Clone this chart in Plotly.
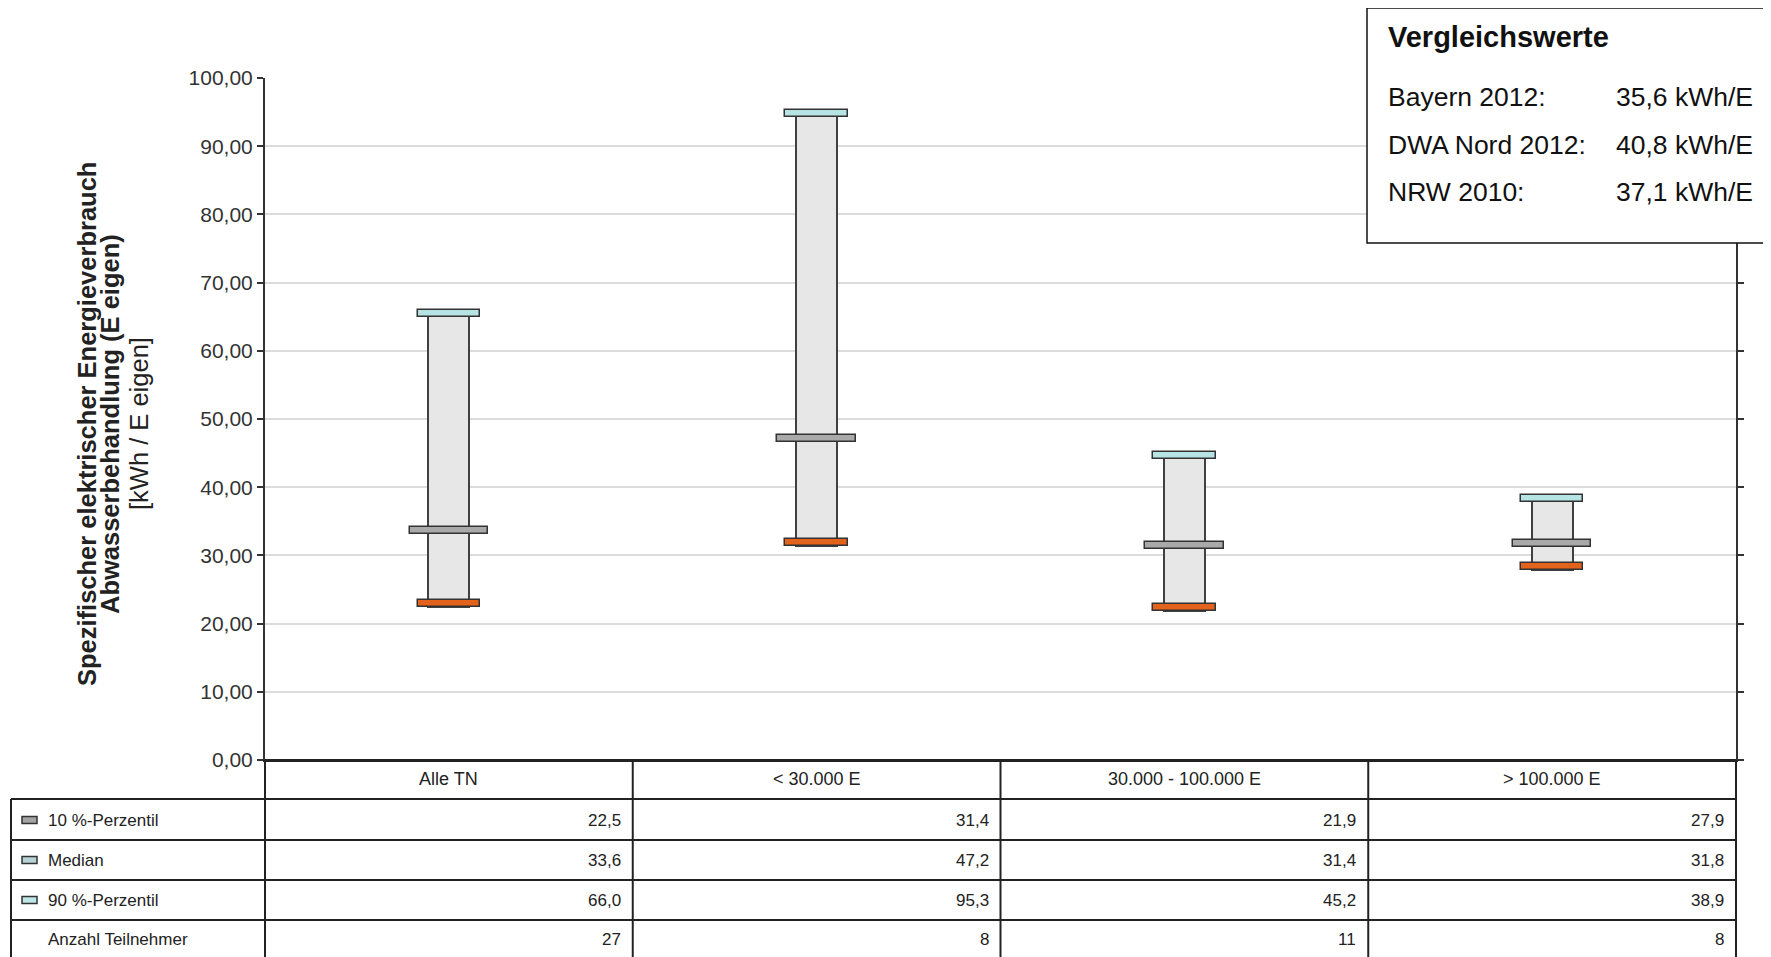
import plotly.graph_objects as go

# ---------------- data ----------------
categories = ["Alle TN", "< 30.000 E", "30.000 - 100.000 E", "> 100.000 E"]
p10 = [22.5, 31.4, 21.9, 27.9]
median = [33.6, 47.2, 31.4, 31.8]
p90 = [66.0, 95.3, 45.2, 38.9]
participants = [27, 8, 11, 8]

row_labels = ["10 %-Perzentil", "Median", "90 %-Perzentil", "Anzahl Teilnehmer"]
row_marker_colors = ["#a3a3a3", "#b7d3d3", "#bfe6e6", None]

ref_title = "Vergleichswerte"
ref_labels = ["Bayern 2012:", "DWA Nord 2012:", "NRW 2010:"]
ref_values = [35.6, 40.8, 37.1]
ref_unit = "kWh/E"

y_title_lines = ["Spezifischer elektrischer Energieverbrauch",
                 "Abwasserbehandlung (E eigen)",
                 "[kWh / E eigen]"]

# ---------------- layout constants (page pixels) ----------------
W, H = 1771, 957
OFF = 8  # page body margin
L, R, T, B = 265, 1736, 78, 760
PW, PH = R - L, B - T
XR = [-0.5, len(categories) - 0.5]
FONT = "Liberation Sans, Arial, sans-serif"
CAP_H = 1.0  # cap thickness in data units


def px(p):
    return (p - L) / PW


def py(p):
    return (B - p) / PH


def cx(v):
    return (v - XR[0]) / (XR[1] - XR[0])


def fmt(v):
    return f"{v:.1f}".replace(".", ",")


xs = list(range(len(categories)))

fig = go.Figure()
line_col = "#404040"
# box body
fig.add_trace(go.Bar(x=xs, y=[b - a for a, b in zip(p10, p90)], base=p10, width=0.112,
                     marker=dict(color="#e7e7e7", line=dict(color=line_col, width=2)),
                     showlegend=False, hoverinfo="skip"))
# top cap (90%)
fig.add_trace(go.Bar(x=xs, y=[CAP_H] * len(xs), base=[v - CAP_H for v in p90], width=0.17,
                     marker=dict(color="#b6e3e3", line=dict(color="#333333", width=1.5)),
                     showlegend=False, hoverinfo="skip"))
# median cap
fig.add_trace(go.Bar(x=xs, y=[CAP_H] * len(xs), base=[v - CAP_H / 2 for v in median], width=0.213,
                     marker=dict(color="#a9a9a9", line=dict(color="#333333", width=1.5)),
                     showlegend=False, hoverinfo="skip"))
# bottom cap (10%)
fig.add_trace(go.Bar(x=xs, y=[CAP_H] * len(xs), base=p10, width=0.17,
                     marker=dict(color="#e4631c", line=dict(color="#333333", width=1.5)),
                     showlegend=False, hoverinfo="skip"))

shapes = []
annotations = []
TL = "#222222"

# ---------- table ----------
row_lines = [760, 799, 840, 880, 920]
row_centers = [820, 860, 900, 939]
header_center = 779
bottom = 965

for i in range(len(categories) + 1):
    xv = cx(i - 0.5)
    shapes.append(dict(type="line", xref="paper", yref="paper", x0=xv, x1=xv,
                       y0=py(760), y1=py(bottom), line=dict(color=TL, width=2)))
shapes.append(dict(type="line", xref="paper", yref="paper", x0=px(11), x1=px(11),
                   y0=py(799), y1=py(bottom), line=dict(color=TL, width=2)))
for k, yl in enumerate(row_lines):
    x0 = 0 if k == 0 else px(11)
    shapes.append(dict(type="line", xref="paper", yref="paper", x0=x0, x1=1,
                       y0=py(yl), y1=py(yl), line=dict(color=TL, width=2)))

tfont = dict(family=FONT, size=17, color="#222222")
hfont = dict(family=FONT, size=18, color="#222222")
for i, c in enumerate(categories):
    annotations.append(dict(xref="paper", yref="paper", x=cx(i), y=py(header_center), text=c,
                            showarrow=False, xanchor="center", yanchor="middle", font=hfont))

rows = [[fmt(v) for v in p10], [fmt(v) for v in median], [fmt(v) for v in p90],
        [str(v) for v in participants]]
for r, vals in enumerate(rows):
    for i, t in enumerate(vals):
        annotations.append(dict(xref="paper", yref="paper", x=cx(i + 0.5), y=py(row_centers[r]),
                                text=t, showarrow=False, xanchor="right", yanchor="middle",
                                xshift=-10, font=tfont))
    annotations.append(dict(xref="paper", yref="paper", x=px(46), y=py(row_centers[r]),
                            text=row_labels[r], showarrow=False, xanchor="left",
                            yanchor="middle", font=tfont))
    mc = row_marker_colors[r]
    if mc:
        shapes.append(dict(type="rect", xref="paper", yref="paper", x0=px(22), x1=px(37),
                           y0=py(row_centers[r] + 3.5), y1=py(row_centers[r] - 3.5),
                           fillcolor=mc, line=dict(color="#333333", width=1.5)))

# ---------- comparison box ----------
shapes.append(dict(type="rect", xref="paper", yref="paper", x0=px(1367), x1=px(1800),
                   y0=py(243), y1=py(8), fillcolor="white", layer="above",
                   line=dict(color="#111111", width=1.5)))
bfont = dict(family=FONT, size=26.5, color="#111111")
annotations.append(dict(xref="paper", yref="paper", x=px(1386), y=py(37),
                        text=f"<b>{ref_title}</b>", showarrow=False, xanchor="left",
                        yanchor="middle", font=dict(family=FONT, size=29, color="#111111")))
ref_rows_y = [97, 145, 192]
for k, (lab, val) in enumerate(zip(ref_labels, ref_values)):
    annotations.append(dict(xref="paper", yref="paper", x=px(1386), y=py(ref_rows_y[k]),
                            text=lab, showarrow=False, xanchor="left", yanchor="middle",
                            font=bfont))
    annotations.append(dict(xref="paper", yref="paper", x=px(1614), y=py(ref_rows_y[k]),
                            text=f"{fmt(val)} {ref_unit}", showarrow=False, xanchor="left",
                            yanchor="middle", font=bfont))

# ---------- y-axis title ----------
title_x = [87, 110, 139]
title_bold = [True, True, False]
for k, line in enumerate(y_title_lines):
    txt = f"<b>{line}</b>" if title_bold[k] else line
    annotations.append(dict(xref="paper", yref="paper", x=px(title_x[k]), y=py(424),
                            text=txt, showarrow=False, textangle=-90, xanchor="center",
                            yanchor="middle", font=dict(family=FONT, size=25.5, color="#222222")))

fig.update_layout(
    width=W - OFF, height=H - OFF, autosize=False,
    margin=dict(l=L - OFF, r=W - R, t=T - OFF, b=H - B, pad=0),
    paper_bgcolor="white", plot_bgcolor="white",
    barmode="overlay", bargap=0,
    separators=",.",
    shapes=shapes, annotations=annotations,
    xaxis=dict(range=XR, showticklabels=False, ticks="", showgrid=False, zeroline=False,
               showline=True, linecolor=TL, linewidth=2, fixedrange=True),
    yaxis=dict(range=[0, 100], dtick=10, tickformat=".2f", ticks="outside", ticklen=6,
               tickcolor="#333333", tickwidth=1.5, showline=True, linecolor="#333333",
               linewidth=2, mirror="ticks", gridcolor="#dcdcdc", gridwidth=2,
               zeroline=False, tickfont=dict(family=FONT, size=21, color="#333333"),
               fixedrange=True),
    font=dict(family=FONT),
)

fig.write_html("out.html")
